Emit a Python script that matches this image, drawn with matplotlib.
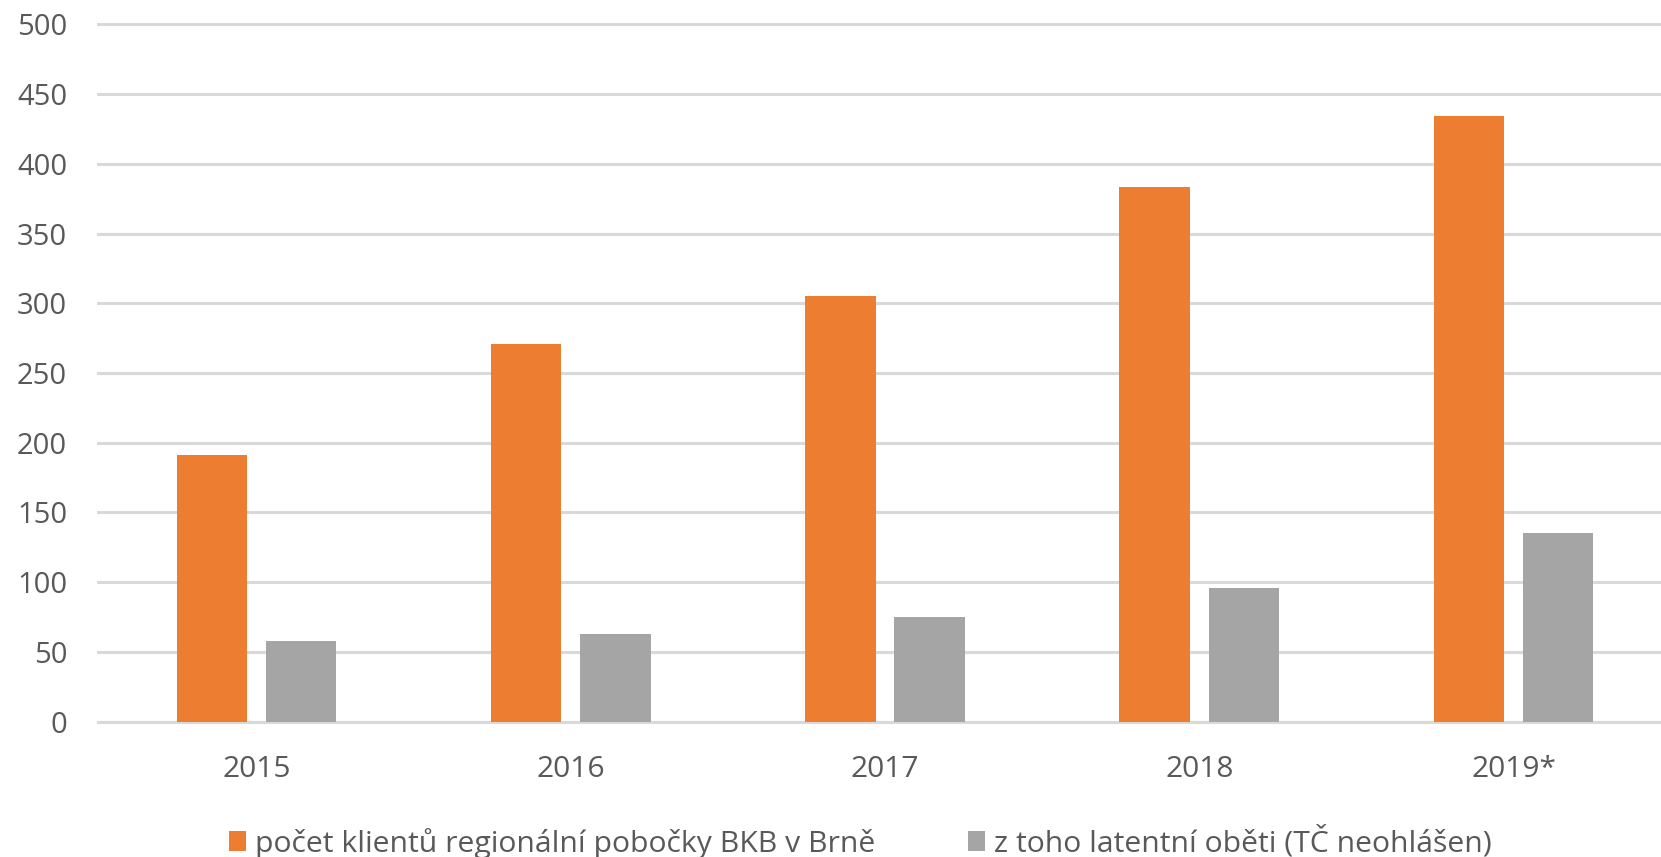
import matplotlib
matplotlib.use("Agg")
import matplotlib.pyplot as plt
from matplotlib.patches import Patch

years = ["2015", "2016", "2017", "2018", "2019*"]
klienti = [191, 271, 305, 383, 434]
latentni = [58, 63, 75, 96, 135]
series_labels = ["počet klientů regionální pobočky BKB v Brně",
                 "z toho latentní oběti (TČ neohlášen)"]
yticks = [0, 50, 100, 150, 200, 250, 300, 350, 400, 450, 500]

ORANGE = "#ED7D31"
GRAY = "#A5A5A5"
GRID = "#D9D9D9"
TXT = "#595959"
FONT = ["Open Sans", "DejaVu Sans"]

W, H = 1661, 857
fig = plt.figure(figsize=(W / 100, H / 100), dpi=100)
plt.rcParams['font.family'] = FONT

# axes placement in pixels
left_px = 97
right_px = 1661
y0_px = 721.7      # pixel row of value 0 (from top)
ppu = 1.3948       # pixels per unit
ymin, ymax = -5, 510
bottom_px = y0_px + 5 * ppu
top_px = y0_px - ymax * ppu
ax = fig.add_axes([left_px / W, (H - bottom_px) / H,
                   (right_px - left_px) / W, (bottom_px - top_px) / H])

cat_w = 314.25
c0 = 256.5
xl = -0.5 - (c0 - cat_w / 2 - left_px) / cat_w
xr = (right_px - c0) / cat_w
ax.set_xlim(xl, xr)
ax.set_ylim(ymin, ymax)

x = list(range(len(years)))
bw = 0.224
off = 0.142
ax.bar([i - off for i in x], klienti, width=bw, color=ORANGE, zorder=3)
ax.bar([i + off for i in x], latentni, width=bw, color=GRAY, zorder=3)

for v in yticks:
    ax.axhline(v, color=GRID, lw=2.2, zorder=1)

for s in ax.spines.values():
    s.set_visible(False)
ax.set_yticks(yticks)
ax.set_yticklabels([str(v) for v in yticks])
ax.set_xticks(x)
ax.set_xticklabels(years)
ax.tick_params(axis='both', length=0, colors=TXT)
ax.tick_params(axis='y', pad=21.5, labelsize=21)
ax.tick_params(axis='x', pad=19, labelsize=21.5)

handles = [Patch(facecolor=ORANGE, edgecolor='none'),
           Patch(facecolor=GRAY, edgecolor='none')]
fig.legend(handles, series_labels, loc='center', ncol=2,
           bbox_to_anchor=(0.518, 0.017), frameon=False,
           fontsize=21.7, labelcolor=TXT, handlelength=0.55, handleheight=0.6,
           handletextpad=0.3, columnspacing=3.1, borderaxespad=0)

fig.savefig("out.png", dpi=100, facecolor="white")
